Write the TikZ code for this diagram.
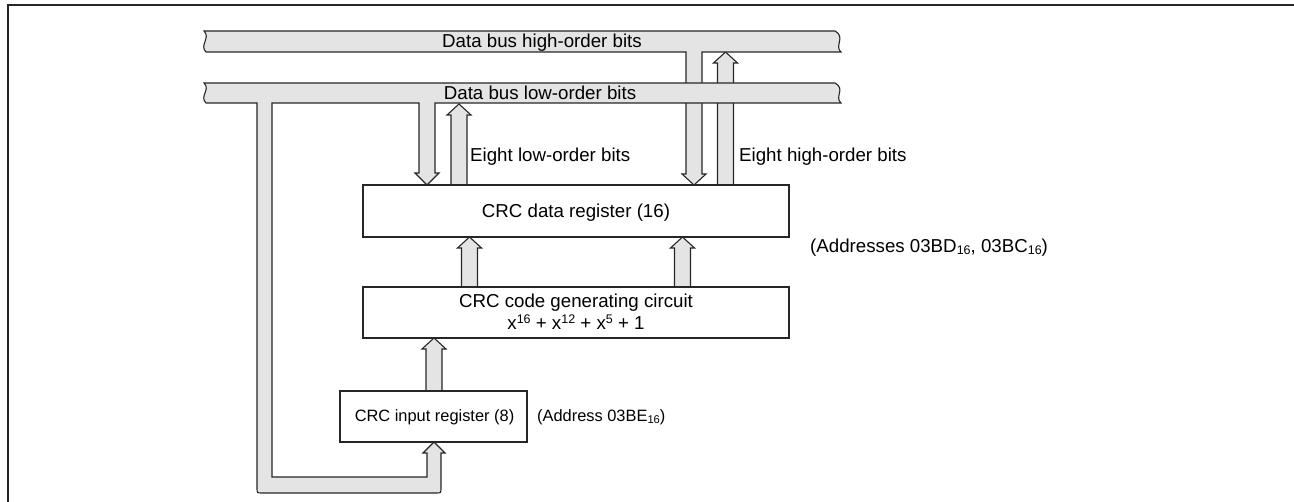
\documentclass[tikz,border=0pt]{standalone}
\usepackage{fontspec}
\setmainfont{Liberation Sans}
\definecolor{busgray}{RGB}{228,228,228}
\newcommand\subtxt[1]{\raisebox{-1.5pt}{\fontsize{12.5}{12.5}\selectfont #1}}
\newcommand\smsubtxt[1]{\raisebox{-1.3pt}{\fontsize{11.2}{11.2}\selectfont #1}}
\newcommand\suptxt[1]{\raisebox{6.5pt}{\fontsize{12.5}{12.5}\selectfont #1}}
\newcommand\fatup[3]{\filldraw[bus] (#1-8,#2) -- (#1-8,#3+11) -- (#1-12,#3+11) -- (#1,#3) -- (#1+12,#3+11) -- (#1+8,#3+11) -- (#1+8,#2);}
\begin{document}
\begin{tikzpicture}[x=1pt,y=-1pt,
  ln/.style={line width=1.1pt, line join=miter, draw=black!85},
  bus/.style={ln, fill=busgray},
  regbox/.style={ln, fill=white, inner sep=0pt, minimum width=#1},
  lbl/.style={inner sep=0pt, font=\fontsize{18.7}{22}\selectfont},
  smlbl/.style={inner sep=0pt, font=\fontsize{16.4}{20}\selectfont}]
\useasboundingbox (0,0) rectangle (1294,502);
% frame
\draw[line width=2pt, black!85] (8,502) -- (8,5) -- (1294,5);
% high-order up arrow (behind low bus)
\fatup{725.5}{185}{52}
% high bus with down branch
\filldraw[bus] (204,31) -- (835,31) .. controls (846,37) and (834,46) .. (841,52)
  -- (702,52) -- (702,174) -- (706,174) -- (694,185) -- (682,174) -- (686,174) -- (686,52)
  -- (206,52) .. controls (199,45) and (211,38) .. (204,31) -- cycle;
% low bus with branches
\filldraw[bus] (204,83) -- (835,83) .. controls (846,89) and (834,97) .. (841,103)
  -- (435,103) -- (435,173) -- (439,173) -- (427,185) -- (415,173) -- (419,173) -- (419,103)
  -- (272,103) -- (272,477) -- (427,477) -- (427,453) -- (423,453) -- (434,442) -- (445,453) -- (441,453)
  -- (441,488) .. controls (441,493) .. (436,493) -- (262,493) .. controls (257,493) .. (257,488)
  -- (257,103) -- (206,103) .. controls (199,96) and (211,90) .. (204,83) -- cycle;
% low-order up arrow
\fatup{459}{185}{104}
% internal arrows
\fatup{469.5}{287}{237}
\fatup{682.5}{287}{237}
\fatup{434}{391}{338}
% boxes
\node[regbox=426, minimum height=52, draw] (data) at (576,211) {};
\node[regbox=426, minimum height=51, draw] (gen) at (576,312.5) {};
\node[regbox=187, minimum height=51, draw] (inp) at (433.5,416.5) {};
% texts
\node[lbl, anchor=base] (th) at (542,47.5) {Data bus high-order bits};
\node[lbl, anchor=base] (tl) at (540,99.5) {Data bus low-order bits};
\node[lbl, anchor=base west] (el) at (470,162) {Eight low-order bits};
\node[lbl, anchor=base west] (eh) at (739,162) {Eight high-order bits};
\node[lbl, anchor=base] (td) at (576,218) {CRC data register (16)};
\node[lbl, anchor=base west] (ad) at (810,253) {(Addresses 03BD\subtxt{16}, 03BC\subtxt{16})};
\node[lbl, anchor=base] (tg1) at (576,308) {CRC code generating circuit};
\node[lbl, anchor=base] (tg2) at (576,330) {x\suptxt{16} + x\suptxt{12} + x\suptxt{5} + 1};
\node[smlbl, anchor=base] (ti) at (434.5,422) {CRC input register (8)};
\node[smlbl, anchor=base west] (ai) at (537,422) {(Address 03BE\smsubtxt{16})};
\end{tikzpicture}
\end{document}
